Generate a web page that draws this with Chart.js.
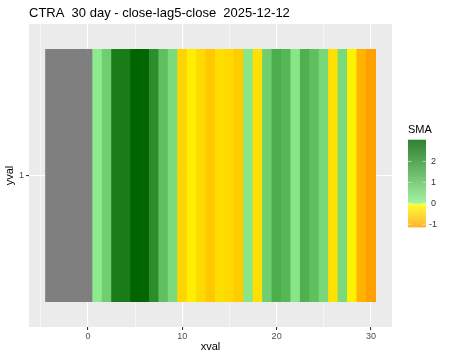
<!DOCTYPE html>
<html>
<head>
<meta charset="utf-8">
<script src="https://cdn.jsdelivr.net/npm/chart.js@4.4.1/dist/chart.umd.min.js"></script>
<style>
  body { margin: 0; background: #fff; }
  canvas { display: block; }
</style>
</head>
<body>
<canvas id="heat" width="450" height="360"></canvas>
<script>
// tile positions along x (day offset) and the SMA value of each tile (null = NA, drawn grey)
const xvals = [-4, -3, -2, -1, 0, 1, 2, 3, 4, 5, 6, 7, 8, 9, 10, 11, 12, 13, 14, 15,
  16, 17, 18, 19, 20, 21, 22, 23, 24, 25, 26, 27, 28, 29, 30];
const smaVals = [null, null, null, null, null,
  0.06, 0.69, 2.45, 2.48, 3.0, 2.95, 2.1, 1.0, 0.43, -0.51,
  -0.2, -0.44, -0.65, -0.38, -0.46, -0.61, 0.17, -0.37, 0.69, 1.42,
  1.2, 0.17, 1.35, 1.0, 0.5, -0.37, 0.45, -0.15, -0.9, -1.13];
const xTicks = [0, 10, 20, 30];
const legendTicks = [2, 1, 0, -1];

const SMA_MIN = -1.13, SMA_MAX = 3.04;

function mix(a, b, t) {
  t = Math.max(0, Math.min(1, t));
  const c = a.map((v, i) => Math.round(v + (b[i] - v) * t));
  return `rgb(${c[0]},${c[1]},${c[2]})`;
}

// green side for >= 0, yellow -> orange side for < 0
function smaColor(v) {
  if (v === null) return '#7f7f7f';
  if (v >= 0) return mix([144, 238, 144], [0, 100, 0], v / 3.0);
  return mix([255, 255, 0], [255, 160, 0], v / SMA_MIN);
}

const isMajor = c => !!(c.tick && xTicks.includes(c.tick.value));

const tiles = xvals.map(x => ({ x: x, y: [0.5, 1.5] }));

// grey panel background like ggplot
const panelBg = {
  id: 'panelBg',
  beforeDraw(chart) {
    const a = chart.chartArea, ctx = chart.ctx;
    ctx.save();
    ctx.fillStyle = '#ebebeb';
    ctx.fillRect(a.left, a.top, a.right - a.left, a.bottom - a.top);
    ctx.restore();
  }
};

// title and colour bar legend
const extras = {
  id: 'extras',
  afterDraw(chart) {
    const ctx = chart.ctx;
    ctx.save();
    ctx.fillStyle = '#000';
    ctx.font = '13px "Liberation Sans", Arial, sans-serif';
    ctx.textBaseline = 'alphabetic';
    ctx.fillText('CTRA  30 day - close-lag5-close  2025-12-12', 29, 17);

    ctx.font = '11px "Liberation Sans", Arial, sans-serif';
    ctx.fillText('SMA', 408, 133);

    const x0 = 408, w = 18, zeroY = 203.3, unit = 20.9;
    const valToY = v => zeroY - v * unit;
    const top = valToY(SMA_MAX), bot = valToY(SMA_MIN);
    for (let y = top; y < bot; y += 0.5) {
      const v = (zeroY - y) / unit;
      ctx.fillStyle = smaColor(v);
      ctx.fillRect(x0, y, w, 0.6);
    }
    ctx.fillStyle = '#333';
    ctx.font = '9px "Liberation Sans", Arial, sans-serif';
    ctx.textBaseline = 'middle';
    ctx.strokeStyle = 'rgba(255,255,255,0.8)';
    ctx.lineWidth = 0.6;
    legendTicks.forEach(t => {
      const y = valToY(t);
      ctx.beginPath();
      ctx.moveTo(x0, y); ctx.lineTo(x0 + 3.5, y);
      ctx.moveTo(x0 + w - 3.5, y); ctx.lineTo(x0 + w, y);
      ctx.stroke();
      ctx.fillText(String(t), t < 0 ? 429 : 431, y);
    });
    ctx.restore();
  }
};

new Chart(document.getElementById('heat'), {
  type: 'bar',
  data: {
    datasets: [{
      data: tiles,
      backgroundColor: smaVals.map(smaColor),
      borderWidth: 0,
      barPercentage: 1.0,
      categoryPercentage: 1.0,
      grouped: false
    }]
  },
  options: {
    responsive: false,
    animation: false,
    layout: { padding: { top: 24, right: 58, left: 3, bottom: 6 } },
    plugins: { legend: { display: false }, tooltip: { enabled: false } },
    scales: {
      x: {
        type: 'linear',
        offset: false,
        min: -6.25,
        max: 32.23,
        afterBuildTicks(scale) {
          scale.ticks = [-5, 0, 5, 10, 15, 20, 25, 30].map(v => ({ value: v }));
        },
        afterFit(scale) { scale.height = 27; },
        border: { display: false },
        grid: {
          offset: false,
          color: '#fff',
          lineWidth: c => isMajor(c) ? 1.1 : 0.5,
          tickColor: c => isMajor(c) ? '#333' : 'rgba(0,0,0,0)',
          tickLength: 3
        },
        ticks: {
          color: '#4d4d4d',
          font: { size: 9, family: '"Liberation Sans", Arial, sans-serif' },
          padding: 1,
          maxRotation: 0,
          autoSkip: false,
          callback: v => xTicks.includes(v) ? String(v) : ''
        },
        title: {
          display: true,
          text: 'xval',
          color: '#000',
          font: { size: 11, family: '"Liberation Sans", Arial, sans-serif' },
          padding: { top: 2, bottom: 0 }
        }
      },
      y: {
        type: 'linear',
        min: 0.4,
        max: 1.6,
        afterBuildTicks(scale) { scale.ticks = [{ value: 1 }]; },
        afterFit(scale) { scale.width = 26; },
        border: { display: false },
        grid: { color: '#fff', lineWidth: 1.1, tickColor: '#333', tickLength: 3 },
        ticks: {
          color: '#4d4d4d',
          font: { size: 9, family: '"Liberation Sans", Arial, sans-serif' },
          padding: 2,
          callback: v => String(v)
        },
        title: {
          display: true,
          text: 'yval',
          color: '#000',
          font: { size: 11, family: '"Liberation Sans", Arial, sans-serif' },
          padding: { top: 0, bottom: 4 }
        }
      }
    }
  },
  plugins: [panelBg, extras]
});
</script>
</body>
</html>
